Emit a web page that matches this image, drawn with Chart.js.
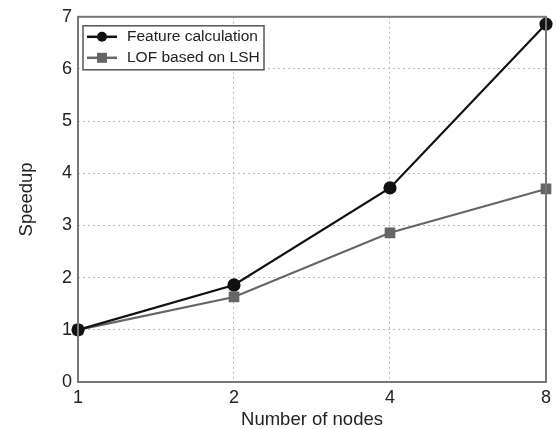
<!DOCTYPE html>
<html>
<head>
<meta charset="utf-8">
<script src="https://cdn.jsdelivr.net/npm/chart.js@4/dist/chart.umd.min.js"></script>
<style>
  html, body { margin: 0; padding: 0; background: #fff; }
  #wrap { width: 556px; height: 429px; }
</style>
</head>
<body>
<div id="wrap"><canvas id="speedChart" width="556" height="429"></canvas></div>
<script>
// Data
const nodes = ['1', '2', '4', '8'];
const featureCalc = [1.0, 1.86, 3.72, 6.86];
const lofLsh = [1.0, 1.63, 2.86, 3.70];
const yTicks = [0, 1, 2, 3, 4, 5, 6, 7];

const FONT = "'Liberation Sans', Arial, sans-serif";

// Frame around the plot + boxed legend in the top-left corner
const framePlugin = {
  id: 'frame',
  afterDraw(chart) {
    const { ctx, chartArea: a } = chart;
    ctx.save();
    ctx.strokeStyle = '#777';
    ctx.lineWidth = 2;
    ctx.strokeRect(a.left, a.top, a.right - a.left, a.bottom - a.top);

    // legend
    const bx = a.left + 5, by = a.top + 9, bw = 181, bh = 44;
    ctx.fillStyle = '#fff';
    ctx.fillRect(bx, by, bw, bh);
    ctx.strokeStyle = '#555';
    ctx.lineWidth = 1.5;
    ctx.strokeRect(bx, by, bw, bh);
    ctx.font = '15.5px ' + FONT;
    ctx.textBaseline = 'middle';
    chart.data.datasets.forEach((ds, i) => {
      const y = by + 11 + i * 21;
      ctx.strokeStyle = ds.borderColor;
      ctx.lineWidth = 2.5;
      ctx.beginPath();
      ctx.moveTo(bx + 4, y);
      ctx.lineTo(bx + 34, y);
      ctx.stroke();
      ctx.fillStyle = ds.backgroundColor;
      if (ds.pointStyle === 'rect') {
        ctx.fillRect(bx + 19 - 5, y - 5, 10, 10);
      } else {
        ctx.beginPath();
        ctx.arc(bx + 19, y, 5, 0, Math.PI * 2);
        ctx.fill();
      }
      ctx.fillStyle = '#222';
      ctx.fillText(ds.label, bx + 44, y);
    });
    ctx.restore();
  }
};

new Chart(document.getElementById('speedChart').getContext('2d'), {
  type: 'line',
  data: {
    labels: nodes,
    datasets: [
      {
        label: 'Feature calculation',
        data: featureCalc,
        borderColor: '#111',
        backgroundColor: '#111',
        borderWidth: 2.2,
        pointStyle: 'circle',
        pointRadius: 5.5,
        tension: 0
      },
      {
        label: 'LOF based on LSH',
        data: lofLsh,
        borderColor: '#666',
        backgroundColor: '#666',
        borderWidth: 2.2,
        pointStyle: 'rect',
        pointRadius: 6,
        tension: 0
      }
    ]
  },
  options: {
    responsive: false,
    animation: false,
    layout: { padding: { left: 0, right: 9, top: 15, bottom: 0 } },
    plugins: {
      legend: { display: false },
      tooltip: { enabled: false }
    },
    scales: {
      x: {
        type: 'category',
        offset: false,
        grid: { color: '#bbb', lineWidth: 1, drawTicks: false },
        border: { display: false, dash: [2, 3] },
        ticks: { color: '#222', font: { family: FONT, size: 18 }, padding: 5, maxRotation: 0 },
        title: { display: true, text: 'Number of nodes', color: '#222', font: { family: FONT, size: 18.5 }, padding: { top: 0, bottom: -2 } },
        afterFit(scale) { scale.height = 47; }
      },
      y: {
        min: 0,
        max: 7,
        afterBuildTicks(scale) { scale.ticks = yTicks.map(v => ({ value: v })); },
        grid: { color: '#bbb', lineWidth: 1, drawTicks: false },
        border: { display: false, dash: [2, 3] },
        ticks: { color: '#222', font: { family: FONT, size: 18 }, padding: 6 },
        title: { display: true, text: 'Speedup', color: '#222', font: { family: FONT, size: 18.5 }, padding: { top: 16, bottom: 0 } },
        afterFit(scale) { scale.width = 78; }
      }
    }
  },
  plugins: [framePlugin]
});
</script>
</body>
</html>
